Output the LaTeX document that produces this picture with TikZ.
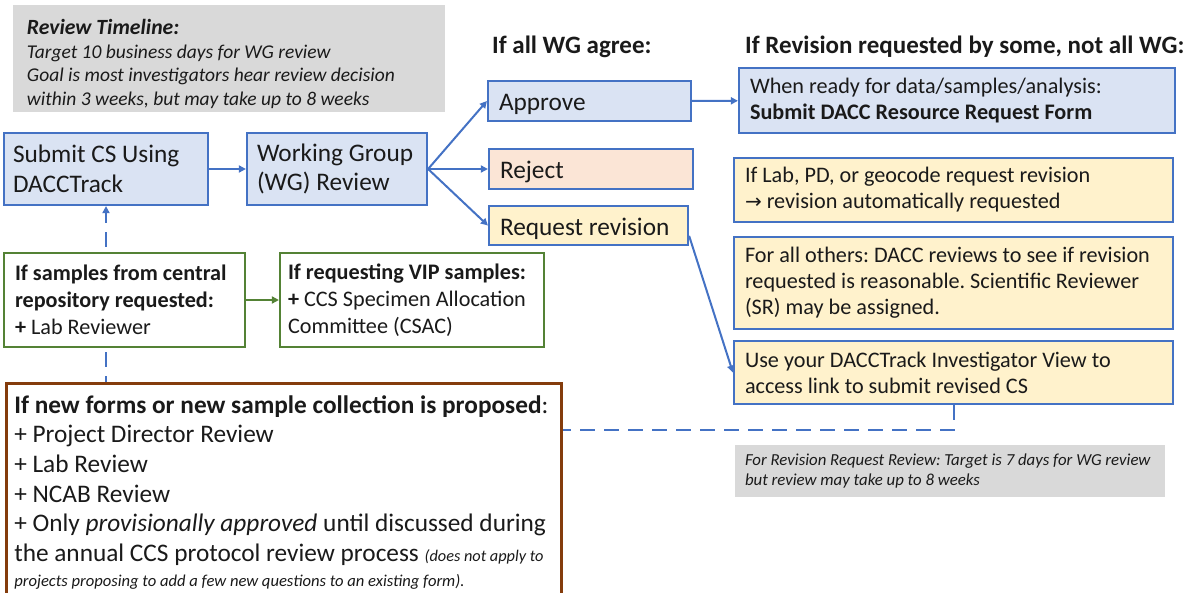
\documentclass[tikz,border=0pt]{standalone}
\usepackage{fontspec}
\setmainfont{Carlito}
\newfontfamily\symf{DejaVu Sans}
\usetikzlibrary{arrows.meta,calc}
\definecolor{bblue}{HTML}{4472C4}
\definecolor{fblue}{HTML}{DAE3F3}
\definecolor{fyellow}{HTML}{FFF2CC}
\definecolor{fpink}{HTML}{FBE5D6}
\definecolor{ggreen}{HTML}{548235}
\definecolor{bbrown}{HTML}{843C0C}
\definecolor{fgrey}{HTML}{D9D9D9}
\definecolor{tdark}{HTML}{1A1A1A}
\pgfdeclarelayer{bg}
\pgfsetlayers{bg,main}
\frenchspacing
\begin{document}
\begin{tikzpicture}[x=1pt,y=-1pt,
  every node/.style={text=tdark},
  box/.style={draw=bblue, line width=2.2pt, inner xsep=8pt, inner ysep=2pt, align=flush left},
  gbox/.style={draw=ggreen, line width=2.2pt, fill=white, inner xsep=8pt, inner ysep=2pt, align=flush left,
     font=\fontsize{22.2}{27}\selectfont},
  bigf/.style={font=\fontsize{25.3}{29.5}\selectfont},
  medf/.style={font=\fontsize{22.2}{26}\selectfont},
  hdr/.style={anchor=west, inner sep=0pt, font=\bfseries\fontsize{25}{30}\selectfont},
  conn/.style={draw=bblue, line width=2pt, -{Triangle[length=7pt,width=7pt]}},
  dconn/.style={draw=bblue, line width=2pt, dash pattern=on 15pt off 9pt, -{Triangle[length=7pt,width=7pt]}},
  gconn/.style={draw=ggreen, line width=2pt, -{Triangle[length=7pt,width=7pt]}}
]
\useasboundingbox (0,0) rectangle (1188,592);

% review timeline
\node[fill=fgrey, minimum width=432pt, minimum height=103pt, text width=404pt, inner xsep=14pt, align=flush left,
  font=\fontsize{19.5}{23.5}\selectfont\itshape] (timeline) at (229,58.5)
  {{\fontsize{21.7}{23.5}\selectfont\bfseries\rule{0pt}{26pt}Review Timeline:}\\
   Target 10 business days for WG review\\
   Goal is most investigators hear review decision\\
   within 3 weeks, but may take up to 8 weeks};

% main flow
\node[box, bigf, fill=fblue, minimum width=204pt, minimum height=72pt, text width=186pt, inner xsep=9pt] (submit) at (106,169)
  {Submit CS Using\\DACCTrack};
\node[box, bigf, fill=fblue, minimum width=180pt, minimum height=72pt, text width=160pt, inner xsep=10pt] (wg) at (337,169)
  {Working Group\\(WG) Review};

% headers
\node[hdr] (h1) at (492,47) {If all WG agree:};
\node[hdr] (h2) at (745,47) {If Revision requested by some, not all WG:};

% decisions
\node[box, bigf, fill=fblue, minimum width=203pt, minimum height=40pt, text width=181pt, inner xsep=11pt] (approve) at (589.5,101) {\rule{0pt}{24pt}Approve};
\node[box, bigf, fill=fpink, minimum width=204pt, minimum height=40pt, text width=182pt, inner xsep=11pt] (reject) at (591,169) {\rule{0pt}{24pt}Reject};
\node[box, bigf, fill=fyellow, minimum width=199pt, minimum height=39pt, text width=177pt, inner xsep=11pt] (reqrev) at (588.5,225.5) {\rule{0pt}{24pt}Request revision};

% right column
\node[box, medf, fill=fblue, minimum width=436pt, minimum height=65pt, text width=414pt, inner xsep=11pt] (ready) at (957,100.5)
  {When ready for data/samples/analysis:\\{\bfseries Submit DACC Resource Request Form}};
\node[box, medf, fill=fyellow, minimum width=439pt, minimum height=64pt, text width=417pt, inner xsep=11pt] (lab) at (953.5,190)
  {If Lab, PD, or geocode request revision\\{\symf\fontsize{20}{26}\selectfont →} revision automatically requested};
\node[box, medf, fill=fyellow, minimum width=439pt, minimum height=92pt, text width=417pt, inner xsep=11pt] (others) at (953.5,283)
  {For all others: DACC reviews to see if revision\\requested is reasonable. Scientific Reviewer\\(SR) may be assigned.};
\node[box, medf, fill=fyellow, minimum width=439pt, minimum height=63pt, text width=417pt, inner xsep=11pt] (use) at (953.5,372.5)
  {Use your DACCTrack Investigator View to\\access link to submit revised CS};
\node[fill=fgrey, minimum width=430pt, minimum height=52pt, text width=410pt, inner xsep=10pt, align=flush left,
  font=\fontsize{16.8}{20}\selectfont\itshape] (note) at (950,471)
  {For Revision Request Review: Target is 7 days for WG review\\but review may take up to 8 weeks};

% green boxes
\node[gbox, minimum width=241pt, minimum height=94pt, text width=219pt, inner xsep=11pt] (green1) at (124.5,300)
  {\textbf{If samples from central}\\\textbf{repository requested:}\\\textbf{+} Lab Reviewer};
\node[gbox, minimum width=264pt, minimum height=94pt, text width=248pt] (green2) at (412,300)
  {\textbf{If requesting VIP samples:}\\\textbf{+} CCS Specimen Allocation\\Committee (CSAC)};

% brown box
\node[draw=bbrown, line width=2.6pt, fill=white, anchor=north west, inner xsep=8pt, inner ysep=12pt,
  text width=539pt, align=flush left, font=\fontsize{25.3}{29.7}\selectfont] (brown) at (5,382)
  {{\bfseries If new forms or new sample collection is proposed}:\\
   + Project Director Review\\
   + Lab Review\\
   + NCAB Review\\
   + Only \textit{provisionally approved} until discussed during\\
   the annual CCS protocol review process {\fontsize{16.3}{20}\selectfont\itshape (does not apply to}\\[-5pt]
   {\fontsize{16.6}{20}\selectfont\itshape projects proposing to add a few new questions to an existing form).}};

% connectors
\draw[conn] (submit) -- (wg);
\draw[conn] (wg.east) -- (approve.west);
\draw[conn] (wg.east) -- (reject.west);
\draw[conn] (wg.east) -- (reqrev.west);
\draw[conn] (approve) -- (ready);
\draw[conn] ($(reqrev.east)!0.5!(reqrev.south east)$) -- (use.west);
\draw[gconn] (green1) -- (green2);
\begin{pgfonlayer}{bg}
\draw[dconn] (use.south) -- ($(use.south)+(0,25)$) coordinate (dturn) -| (submit.south);
\end{pgfonlayer}
\end{tikzpicture}
\end{document}
